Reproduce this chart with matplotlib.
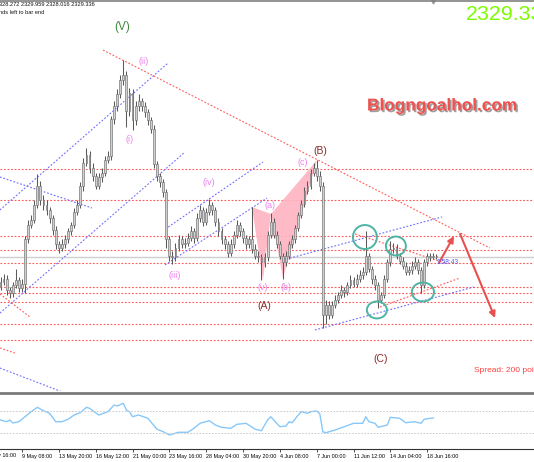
"""
XAUUSD H4 Elliott-wave chart (MT4 screenshot look-alike).
"""

import numpy as np
import matplotlib

matplotlib.use("Agg")
import matplotlib.pyplot as plt
import matplotlib.patheffects as pe
from matplotlib.patches import Ellipse, Polygon
from matplotlib.ticker import FixedLocator, FuncFormatter

plt.rcParams["font.family"] = ["Liberation Sans", "DejaVu Sans"]

# ------------------------------------------------------------------ data
# one H4 bar per entry (bar index 0..142)
CLOSE = [
    2314, 2316, 2309, 2307, 2312, 2315, 2310, 2313, 2340, 2349, 2352, 2361,
    2373, 2364, 2361, 2358, 2353, 2346, 2337, 2335, 2337, 2340, 2345, 2349,
    2357, 2361, 2373, 2387, 2392, 2384, 2379, 2373, 2378, 2381, 2389, 2391,
    2414, 2422, 2429, 2438, 2441, 2419, 2430, 2413, 2422, 2425, 2422, 2418,
    2413, 2408, 2386, 2379, 2375, 2369, 2340, 2330, 2329, 2335, 2340, 2337,
    2338, 2341, 2345, 2341, 2353, 2358, 2351, 2357, 2361, 2358, 2351, 2345,
    2340, 2337, 2332, 2337, 2343, 2349, 2345, 2341, 2337, 2340, 2334, 2330,
    2329, 2326, 2329, 2343, 2351, 2343, 2337, 2330, 2326, 2330, 2337, 2340,
    2347, 2355, 2362, 2370, 2373, 2381, 2384, 2379, 2373, 2294, 2300, 2294,
    2300, 2303, 2306, 2309, 2308, 2312, 2315, 2313, 2316, 2318, 2320, 2330,
    2322, 2316, 2312, 2303, 2306, 2316, 2326, 2334, 2335, 2330, 2327, 2324,
    2320, 2321, 2324, 2326, 2321, 2312, 2326, 2330, 2329, 2330, 2329.3]
HIGH = [
    2317, 2319, 2318, 2311, 2314, 2322, 2317, 2316, 2342, 2352, 2355, 2364,
    2380, 2376, 2367, 2364, 2360, 2355, 2348, 2339, 2340, 2343, 2347, 2351,
    2359, 2364, 2375, 2390, 2396, 2394, 2387, 2381, 2381, 2384, 2391, 2394,
    2416, 2425, 2432, 2441, 2450, 2443, 2433, 2432, 2425, 2429, 2427, 2424,
    2420, 2415, 2410, 2388, 2381, 2377, 2371, 2342, 2333, 2338, 2343, 2342,
    2341, 2344, 2348, 2347, 2356, 2361, 2360, 2359, 2365, 2363, 2360, 2353,
    2347, 2342, 2339, 2340, 2345, 2352, 2351, 2347, 2343, 2342, 2360, 2337,
    2333, 2331, 2332, 2345, 2356, 2353, 2345, 2339, 2332, 2333, 2339, 2343,
    2349, 2357, 2364, 2372, 2376, 2383, 2387, 2389, 2382, 2375, 2303, 2302,
    2302, 2306, 2308, 2312, 2311, 2314, 2318, 2317, 2319, 2321, 2323, 2345,
    2332, 2324, 2318, 2314, 2308, 2318, 2328, 2339, 2338, 2337, 2332, 2329,
    2326, 2324, 2327, 2329, 2328, 2323, 2328, 2332, 2332, 2332, 2331]
LOW = [
    2309, 2312, 2306, 2304, 2305, 2310, 2308, 2308, 2307, 2338, 2347, 2350,
    2359, 2361, 2358, 2355, 2350, 2343, 2334, 2332, 2333, 2335, 2338, 2343,
    2347, 2355, 2359, 2370, 2385, 2381, 2376, 2371, 2371, 2375, 2379, 2387,
    2389, 2411, 2419, 2427, 2435, 2409, 2416, 2407, 2410, 2419, 2419, 2415,
    2410, 2405, 2384, 2376, 2372, 2366, 2335, 2327, 2325, 2327, 2333, 2335,
    2335, 2336, 2339, 2338, 2339, 2351, 2348, 2349, 2355, 2355, 2348, 2342,
    2337, 2334, 2329, 2330, 2335, 2341, 2342, 2338, 2334, 2335, 2332, 2328,
    2326, 2315, 2323, 2327, 2341, 2341, 2335, 2328, 2316, 2324, 2328, 2335,
    2338, 2345, 2353, 2360, 2368, 2371, 2379, 2376, 2370, 2286, 2288, 2291,
    2292, 2298, 2301, 2304, 2305, 2306, 2310, 2311, 2311, 2314, 2316, 2318,
    2320, 2313, 2309, 2298, 2301, 2304, 2314, 2324, 2332, 2328, 2325, 2322,
    2318, 2318, 2319, 2322, 2319, 2307, 2310, 2324, 2327, 2328, 2328]
FIRST_OPEN = 2311
BID = 2329.336

# horizontal support / resistance levels
LEVELS = [2383.2, 2364.2, 2342.1, 2333.5, 2325.6, 2310.9, 2307.2, 2301.7, 2288.2, 2278.4]

# trendlines as (bar, price) pairs
RED_TRENDS = [((33.4, 2456.1), (159.4, 2334.8)), ((115.5, 2343.4), (144.8, 2325.6)),
              ((123.6, 2298.6), (149.7, 2316.4)), ((-0.2, 2306.6), (9.6, 2292.5)),
              ((-0.2, 2273.5), (4.7, 2270.4))]
BLUE_TRENDS = [((-0.2, 2358.1), (54.6, 2448.2)), ((-0.2, 2294.9), (60.1, 2393.6)),
               ((-0.2, 2378.3), (29.8, 2359.3)), ((54.6, 2347.6), (85.5, 2387.5)),
               ((53.6, 2324.4), (86.8, 2365.4)), ((92.0, 2327.4), (143.8, 2353.8)),
               ((102.4, 2284.5), (154.2, 2310.9)), ((-0.2, 2261.2), (21.0, 2245.9))]

# harmonic pattern legs
PINK_XAB = [(81.9, 2359.9), (85.5, 2315.2), (88.1, 2355.6)]
PINK_BCD = [(88.1, 2355.6), (92.0, 2316.4), (103.1, 2388.7)]

# circled swing points: (bar, price, width in bars, height in price)
CIRCLES = [(118.7, 2341.5, 7.8, 14.7), (128.8, 2336.0, 6.5, 11.6),
           (122.6, 2296.8, 6.5, 10.4), (137.6, 2307.8, 7.2, 11.6)]

# projected path arrows
ARROWS = [((142.8, 2325.6), (147.7, 2342.1)), ((149.7, 2343.4), (161.1, 2291.9))]

WAVE_TEXT = ["(V)", "(i)", "(ii)", "(iii)", "(iv)", "(v)", "(a)", "(b)", "(c)",
             "(A)", "(B)", "(C)"]
WAVE_POS = [(39.6, 2470.2), (42.2, 2401.0), (46.7, 2448.8), (56.8, 2318.2),
            (67.9, 2375.2), (85.5, 2310.3), (87.8, 2361.1), (93.0, 2310.3),
            (98.5, 2386.9), (85.8, 2299.2), (104.1, 2394.2), (123.9, 2266.7)]

# oscillator in the lower pane
IND_BAR = [0, 2, 3, 4, 6, 8, 10, 12, 14, 16, 18, 20, 22, 24, 26, 28, 29, 32, 35, 37,
           38, 40, 41, 42, 43, 45, 48, 51, 53, 55, 58, 61, 63, 65, 68, 70, 72, 75, 77, 80,
           83, 85, 87, 88, 91, 93, 94, 95, 97, 98, 100, 101, 103, 104, 105, 106, 109, 112,
           115, 118, 119, 120, 122, 123, 126, 127, 130, 132, 135, 137, 138, 140, 141]
IND_VAL = [53.6, 50.5, 53.6, 48.2, 50.5, 59.6, 68.7, 76.7, 70.5, 65.8, 50.5, 50.5,
           54.9, 62.7, 66.9, 76.7, 74.9, 62.7, 68.7, 80.9, 79.1, 84.0, 71.8, 68.7, 59.6,
           62.7, 56.7, 36.7, 32.4, 26.4, 31.3, 31.3, 38.5, 47.6, 52.4, 44.5, 40.4, 38.5,
           45.8, 47.6, 36.7, 34.2, 53.6, 59.6, 41.5, 42.7, 50.5, 48.7, 62.7, 68.7, 65.8,
           68.7, 70.0, 65.0, 32.0, 30.5, 35.5, 41.5, 47.6, 47.6, 59.6, 50.5, 47.6, 40.4,
           44.5, 58.5, 56.7, 48.7, 50.5, 47.6, 54.9, 56.7, 57.3]
IND_LEVELS = [70, 30]

# time labels, one every 12 bars (the first sits left of the visible window)
TICK_BARS = [-5, 7, 19, 31, 43, 55, 67, 79, 91, 103, 115, 127, 139]
TICK_LABELS = ["6 May 16:00", "9 May 08:00", "13 May 20:00", "16 May 12:00",
               "21 May 00:00", "23 May 16:00", "28 May 04:00", "30 May 20:00",
               "4 Jun 08:00", "7 Jun 00:00", "11 Jun 12:00", "14 Jun 04:00",
               "18 Jun 16:00"]

# ------------------------------------------------------------------ figure
W, H = 534, 462
fig = plt.figure(figsize=(W / 100, H / 100), dpi=100)
ax = fig.add_axes([0, 71 / H, 1, 390 / H])
axi = fig.add_axes([0, 13 / H, 1, 56 / H])

XLIM = (-0.163, 173.78)
ax.set_xlim(*XLIM)
ax.set_ylim(2247.12, 2486.19)

RED, BLUE = "#ff5a5a", "#6f6fff"
DOT = (0, (1.6, 1.6))

for lvl in LEVELS:
    ax.axhline(lvl, color=RED, lw=0.8, ls=DOT, zorder=1)
ax.axhline(BID, color="#cfcfcf", lw=1.0, zorder=1)

for (x0, y0), (x1, y1) in RED_TRENDS:
    ax.plot([x0, x1], [y0, y1], color=RED, lw=0.8, ls=DOT, zorder=2)
for (x0, y0), (x1, y1) in BLUE_TRENDS:
    ax.plot([x0, x1], [y0, y1], color=BLUE, lw=0.8, ls=DOT, zorder=2)

for pts in (PINK_XAB, PINK_BCD):
    ax.add_patch(Polygon(pts, closed=True, facecolor="#ffb3c1", edgecolor="none",
                         alpha=0.9, zorder=1.5))

# candles
close = np.array(CLOSE, dtype=float)
opn = np.concatenate([[FIRST_OPEN], close[:-1]])
idx = np.arange(len(close))
ax.vlines(idx, LOW, HIGH, color="#5a5a5a", lw=0.75, zorder=3)
bottom = np.minimum(opn, close)
height = np.maximum(np.abs(close - opn), 0.5)
ax.bar(idx, height, bottom=bottom, width=0.6, color="#d0d0d0",
       edgecolor="#707070", linewidth=0.45, zorder=4)

for cx, cy, cw, ch in CIRCLES:
    ax.add_patch(Ellipse((cx, cy), cw, ch, fill=False, edgecolor="#4cb5a3",
                         lw=1.4, zorder=5))

for start, end in ARROWS:
    ax.annotate("", xy=end, xytext=start,
                arrowprops=dict(arrowstyle="-|>", color="#e85050", lw=1.5,
                                mutation_scale=9, shrinkA=0, shrinkB=0), zorder=6)

for txt, (tx, ty) in zip(WAVE_TEXT, WAVE_POS):
    if txt == "(V)":
        col, fs = "#3c8a3c", 8.5
    elif txt in ("(A)", "(B)", "(C)"):
        col, fs = "#8b2a2a", 7.5
    else:
        col, fs = "#ee82ee", 6.5
    ax.text(tx, ty, txt, color=col, fontsize=fs, ha="center", va="center", zorder=7)

for side in ("left", "right", "bottom"):
    ax.spines[side].set_visible(False)
ax.spines["top"].set_color("#808080")
ax.spines["top"].set_linewidth(1.2)
ax.set_xticks([])
ax.set_yticks([])
ax.plot([140.9], [1.0], marker="v", color="#999999", markersize=3.5,
        transform=ax.get_xaxis_transform(), clip_on=False)

# lower pane
axi.set_xlim(*XLIM)
axi.set_ylim(0.9, 102.7)
axi.plot(IND_BAR, IND_VAL, color="#87c8fa", lw=1.0)
for lvl in IND_LEVELS:
    axi.axhline(lvl, color="#c8c8c8", lw=0.7, ls=DOT)
axi.spines["left"].set_visible(False)
axi.spines["right"].set_visible(False)
axi.spines["top"].set_color("#7a7a7a")
axi.spines["top"].set_linewidth(2.0)
axi.spines["bottom"].set_color("#333333")
axi.spines["bottom"].set_linewidth(0.8)
axi.set_yticks([])
tick_names = dict(zip(TICK_BARS, TICK_LABELS))
axi.xaxis.set_major_locator(FixedLocator(TICK_BARS))
axi.xaxis.set_major_formatter(FuncFormatter(lambda v, pos: tick_names.get(int(round(v)), "")))
axi.tick_params(axis="x", length=2.5, width=0.6, pad=0.8, color="#333333", labelsize=3.9)
for lab in axi.get_xticklabels():
    lab.set_horizontalalignment("left")
# the label whose tick lies left of the window is still partly on screen
axi.text(TICK_BARS[0] + 0.3, -0.08, TICK_LABELS[0], fontsize=3.9, ha="left", va="top",
         transform=axi.get_xaxis_transform(), clip_on=False)

# screen texts
def ftext(x, y, s, **kw):
    fig.text(x / W, 1 - y / H, s, **kw)

ftext(-1, 5, "328.272 2329.959 2328.016 2329.336", fontsize=4.1, va="center", color="#111111")
ftext(-1, 13, "nds left to bar end", fontsize=4.1, va="center", color="#111111")
ftext(466, 14, "2329.336", fontsize=15.4, va="center", color="#7cfc00")
ftext(367, 106, "Blogngoalhol.com", fontsize=12.4, fontweight="bold", va="center",
      color="#f0504e",
      path_effects=[pe.SimplePatchShadow(offset=(1.2, -1.2), shadow_rgbFace="#777777",
                                         alpha=0.7), pe.Normal()])
ftext(474, 370, "Spread: 200 points", fontsize=6, va="center", color="#ff4040")
ftext(437, 262, "1:58:43", fontsize=4.8, va="center", color="#5a5aee")

fig.savefig("out.png", dpi=100)
